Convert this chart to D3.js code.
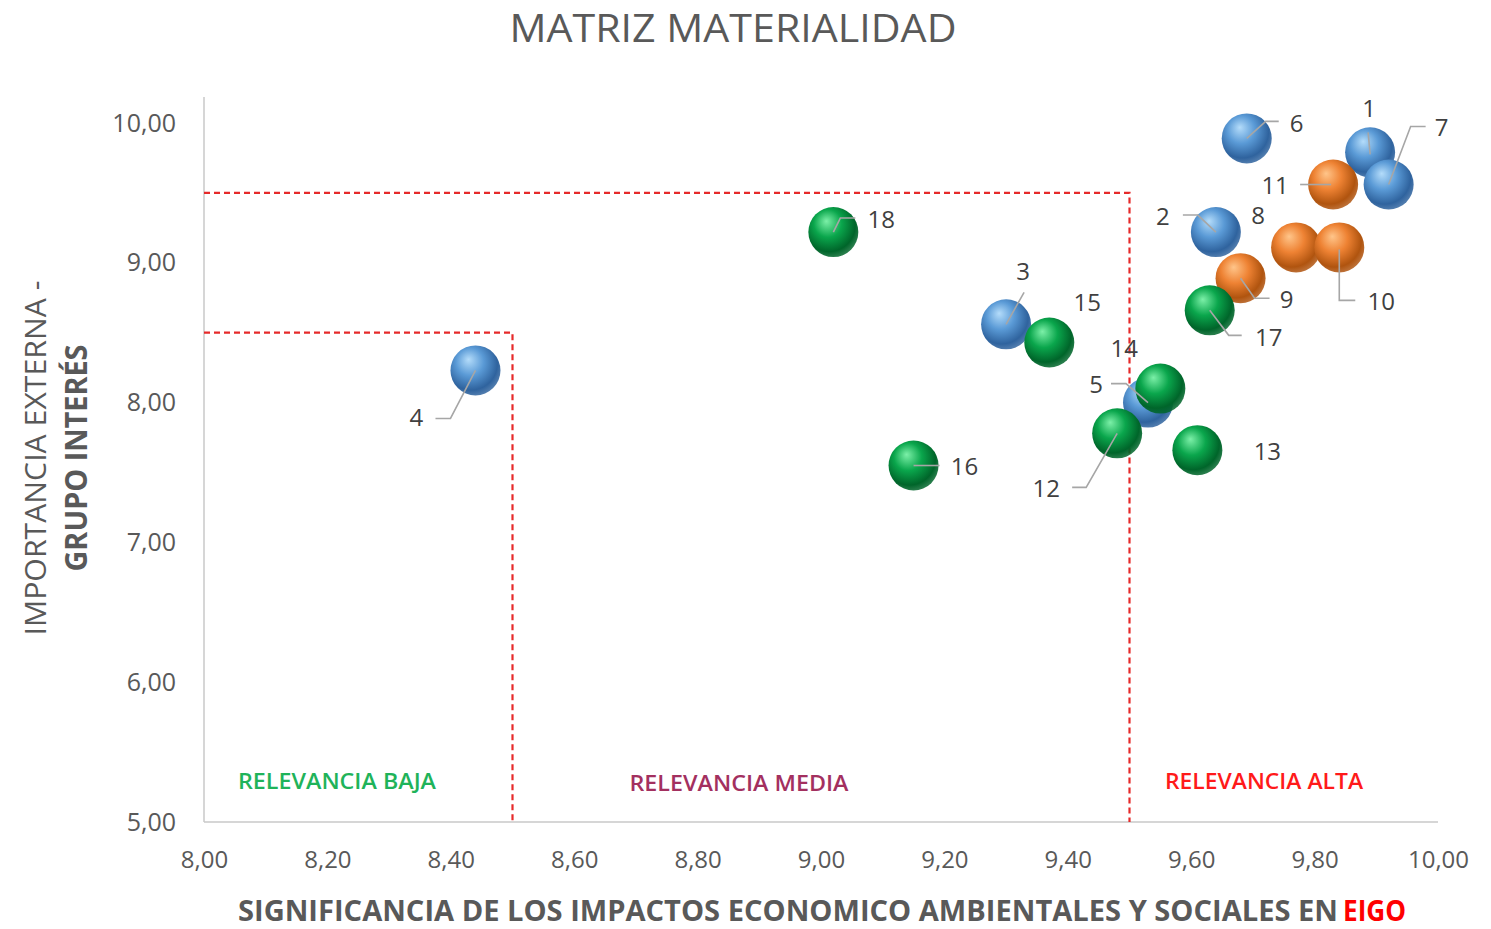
<!DOCTYPE html>
<html>
<head>
<meta charset="utf-8">
<script src="https://cdn.jsdelivr.net/npm/d3@7"></script>
<style>
  html, body { margin: 0; padding: 0; background: #ffffff; }
  svg { display: block; }
  text { font-family: "Open Sans", "Liberation Sans", sans-serif; }
</style>
</head>
<body>
<svg id="chart" width="1491" height="929"></svg>
<script>
// ---------------- DATA ----------------
const chartTitle = "MATRIZ MATERIALIDAD";
const xTitle = "SIGNIFICANCIA DE LOS IMPACTOS ECONOMICO AMBIENTALES Y SOCIALES EN ";
const xTitleAccent = "EIGO";
const yTitleLine1 = "IMPORTANCIA EXTERNA -";
const yTitleLine2 = "GRUPO INTERÉS";
const xTicks = [8.0, 8.2, 8.4, 8.6, 8.8, 9.0, 9.2, 9.4, 9.6, 9.8, 10.0];
const yTicks = [5, 6, 7, 8, 9, 10];
const thresholds = [8.5, 9.5];
const regionNames = ["RELEVANCIA BAJA", "RELEVANCIA MEDIA", "RELEVANCIA ALTA"];

const seriesNames = ["Serie 1", "Serie 2", "Serie 3"];
const topicIds      = [1, 2, 3, 4, 5, 6, 7, 8, 9, 10, 11, 12, 13, 14, 15, 16, 17, 18];
const topicSeries   = [0, 0, 0, 0, 0, 0, 0, 1, 1, 1, 1, 2, 2, 2, 2, 2, 2, 2];
const significance  = [9.89, 9.64, 9.30, 8.44, 9.53, 9.69, 9.92, 9.77, 9.68, 9.84, 9.83, 9.48, 9.61, 9.55, 9.37, 9.15, 9.63, 9.02];
const importance    = [9.79, 9.22, 8.56, 8.23, 8.00, 9.89, 9.56, 9.11, 8.89, 9.11, 9.56, 7.78, 7.66, 8.10, 8.43, 7.55, 8.66, 9.22];

// ---------------- LAYOUT / STYLE ----------------
const W = 1491, H = 929;
const plot = { left: 204, right: 1438, top: 123, bottom: 822, axisTop: 97 };
const bubbleR = 25;
const seriesColors = [
  { hi: "#b4dcfa", mid: "#5a9ad6", lo: "#2f639e" },
  { hi: "#ffc58a", mid: "#ee8233", lo: "#b0540f" },
  { hi: "#7cf0a8", mid: "#0aa64c", lo: "#00652a" }
];
const regionColors = ["#1fb35a", "#a3305f", "#ff1a1a"];
const regionLabelPos = [[337, 781], [739, 783], [1264, 781]];
const regionLabelLen = [198, 219, 198];
// label offset (dx, dy) relative to bubble centre, and leader polyline relative to centre
const labelLayout = {
  1:  { dx: -1,  dy: -44, leader: [[0, 2], [-2, -20]] },
  2:  { dx: -53, dy: -16, leader: [[0, 0], [-18, -17], [-33, -17]] },
  3:  { dx: 17,  dy: -53, leader: [[0, 0], [18, -32]] },
  4:  { dx: -59, dy: 47,  leader: [[0, 0], [-25, 48], [-40, 48]] },
  5:  { dx: -52, dy: -18, leader: [[0, 0], [-22, -19], [-37, -19]] },
  6:  { dx: 50,  dy: -15, leader: [[0, 0], [19, -17], [32, -17]] },
  7:  { dx: 53,  dy: -57, leader: [[0, 0], [22, -58], [37, -58]] },
  8:  { dx: -38, dy: -32, leader: null },
  9:  { dx: 46,  dy: 21,  leader: [[0, 0], [14, 20], [29, 20]] },
  10: { dx: 42,  dy: 54,  leader: [[0, 2], [0, 53], [16, 53]] },
  11: { dx: -58, dy: 1,   leader: [[-2, 0], [-33, 0]] },
  12: { dx: -71, dy: 55,  leader: [[0, 0], [-31, 54], [-45, 54]] },
  13: { dx: 70,  dy: 1,   leader: null },
  14: { dx: -36, dy: -40, leader: null },
  15: { dx: 38,  dy: -40, leader: null },
  16: { dx: 51,  dy: 1,   leader: [[0, 0], [26, 0]] },
  17: { dx: 59,  dy: 27,  leader: [[0, 0], [19, 25], [32, 25]] },
  18: { dx: 48,  dy: -13, leader: [[0, 0], [7, -14], [22, -14]] }
};

// ---------------- DRAW ----------------
const svg = d3.select("#chart");
const fmt = v => d3.format(".2f")(v).replace(".", ",");

const x = d3.scaleLinear().domain([8, 10]).range([plot.left, plot.right]);
const y = d3.scaleLinear().domain([5, 10]).range([plot.bottom, plot.top]);

// gradients
const defs = svg.append("defs");
seriesColors.forEach((c, i) => {
  const g = defs.append("radialGradient").attr("id", "ball" + i)
    .attr("cx", "42%").attr("cy", "38%").attr("r", "62%")
    .attr("fx", "36%").attr("fy", "28%");
  g.append("stop").attr("offset", "0%").attr("stop-color", c.hi);
  g.append("stop").attr("offset", "45%").attr("stop-color", c.mid);
  g.append("stop").attr("offset", "85%").attr("stop-color", c.lo);
  g.append("stop").attr("offset", "100%").attr("stop-color", c.lo).attr("stop-opacity", 0.85);
});

// title
svg.append("text")
  .attr("x", 733).attr("y", 42)
  .attr("text-anchor", "middle")
  .attr("font-size", 38).attr("fill", "#595959")
  .attr("textLength", 447).attr("lengthAdjust", "spacingAndGlyphs")
  .text(chartTitle);

// axes lines
svg.append("line")
  .attr("x1", x(8)).attr("x2", x(8))
  .attr("y1", plot.axisTop).attr("y2", y(5))
  .attr("stroke", "#c8c8c8").attr("stroke-width", 1.5);
svg.append("line")
  .attr("x1", x(8)).attr("x2", x(10))
  .attr("y1", y(5)).attr("y2", y(5))
  .attr("stroke", "#c8c8c8").attr("stroke-width", 1.5);

// axis tick labels
const xAxis = svg.append("g").attr("transform", `translate(0,${y(5)})`)
  .call(d3.axisBottom(x).tickValues(xTicks).tickSize(0).tickPadding(29).tickFormat(fmt));
xAxis.select(".domain").remove();
xAxis.selectAll("text").attr("font-size", 24).attr("fill", "#595959")
  .attr("font-family", "'Open Sans', sans-serif");

const yAxis = svg.append("g").attr("transform", `translate(${x(8)},0)`)
  .call(d3.axisLeft(y).tickValues(yTicks).tickSize(0).tickPadding(28).tickFormat(fmt));
yAxis.select(".domain").remove();
yAxis.selectAll("text").attr("font-size", 25).attr("fill", "#595959")
  .attr("font-family", "'Open Sans', sans-serif");

// threshold dashed lines
const dash = { stroke: "#e62a2a", "stroke-width": 2.2, "stroke-dasharray": "6,4" };
thresholds.forEach(t => {
  const pts = [[x(8), y(t)], [x(t), y(t)], [x(t), y(5)]];
  const p = svg.append("path").attr("d", d3.line()(pts)).attr("fill", "none");
  Object.entries(dash).forEach(([k, v]) => p.attr(k, v));
});

// region labels
regionNames.forEach((name, i) => {
  svg.append("text")
    .attr("x", regionLabelPos[i][0]).attr("y", regionLabelPos[i][1])
    .attr("dy", "0.35em")
    .attr("text-anchor", "middle")
    .attr("font-size", 22).attr("font-weight", 600).attr("fill", regionColors[i])
    .attr("textLength", regionLabelLen[i]).attr("lengthAdjust", "spacingAndGlyphs")
    .text(name);
});

// axis titles
svg.append("text")
  .attr("x", 238).attr("y", 921)
  .attr("font-size", 28).attr("font-weight", "bold").attr("fill", "#595959")
  .attr("textLength", 1100).attr("lengthAdjust", "spacingAndGlyphs")
  .text(xTitle);
svg.append("text")
  .attr("x", 1343).attr("y", 921)
  .attr("font-size", 28).attr("font-weight", "bold").attr("fill", "#ff0000")
  .attr("textLength", 63).attr("lengthAdjust", "spacingAndGlyphs")
  .text(xTitleAccent);

svg.append("text")
  .attr("transform", "translate(46,458) rotate(-90)")
  .attr("text-anchor", "middle")
  .attr("font-size", 30).attr("fill", "#595959")
  .attr("textLength", 355).attr("lengthAdjust", "spacingAndGlyphs")
  .text(yTitleLine1);
svg.append("text")
  .attr("transform", "translate(87,458) rotate(-90)")
  .attr("text-anchor", "middle")
  .attr("font-size", 30).attr("font-weight", "bold").attr("fill", "#595959")
  .attr("textLength", 227).attr("lengthAdjust", "spacingAndGlyphs")
  .text(yTitleLine2);

// data
const points = topicIds.map((id, i) => ({
  id, s: topicSeries[i], cx: x(significance[i]), cy: y(importance[i])
}));

// bubbles (series order)
const bubbles = svg.append("g");
bubbles.selectAll("circle").data(points).join("circle")
  .attr("cx", d => d.cx).attr("cy", d => d.cy).attr("r", bubbleR)
  .attr("fill", d => `url(#ball${d.s})`);

// leader lines
const leaders = svg.append("g");
points.forEach(d => {
  const L = labelLayout[d.id];
  if (!L.leader) return;
  leaders.append("path")
    .attr("d", d3.line()(L.leader.map(p => [d.cx + p[0], d.cy + p[1]])))
    .attr("fill", "none").attr("stroke", "#a6a6a6").attr("stroke-width", 1.6);
});

// labels
svg.append("g").selectAll("text").data(points).join("text")
  .attr("x", d => d.cx + labelLayout[d.id].dx)
  .attr("y", d => d.cy + labelLayout[d.id].dy)
  .attr("dy", "0.36em")
  .attr("text-anchor", "middle")
  .attr("font-size", 24).attr("fill", "#404040")
  .text(d => d.id);
</script>
</body>
</html>
